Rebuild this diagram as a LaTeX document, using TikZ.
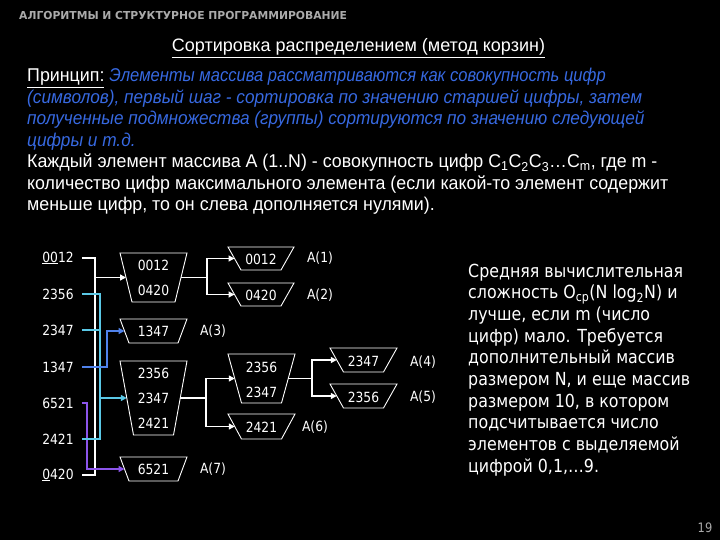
\documentclass[tikz,border=0pt]{standalone}
\usepackage{fontspec}
\setmainfont{Liberation Sans}
\newfontfamily\bodyfont[FakeStretch=0.963]{Liberation Sans}
\newfontfamily\bodyitfont[FakeStretch=0.93]{Liberation Sans Italic}
\newfontfamily\bodyitfontb[FakeStretch=0.895]{Liberation Sans Italic}
\newfontfamily\titlefont{Liberation Sans}
\newfontfamily\tahfont[FakeStretch=0.88]{DejaVu Sans}
\newfontfamily\headfont[FakeStretch=0.98]{DejaVu Sans Bold}
\usetikzlibrary{arrows.meta}
\definecolor{headgray}{RGB}{170,170,170}
\definecolor{princblue}{RGB}{55,105,225}
\definecolor{cyanline}{RGB}{90,200,230}
\definecolor{blueline}{RGB}{80,130,235}
\definecolor{purpline}{RGB}{140,85,235}
% #1 name, #2 cx, #3 cy, #4 top half width, #5 bottom half width, #6 half height
\newcommand{\mytrap}[6]{%
  \draw[trapline] ({#2-#4},{#3-#6}) -- ({#2+#4},{#3-#6}) -- ({#2+#5},{#3+#6}) -- ({#2-#5},{#3+#6}) -- cycle;
  \coordinate (#1-w) at ({#2-(#4+#5)/2},#3);
  \coordinate (#1-e) at ({#2+(#4+#5)/2},#3);
}
\begin{document}
\begin{tikzpicture}[x=1pt,y=-1pt,
  every node/.style={text=white},
  trapline/.style={draw=white, line width=0.9pt, line join=miter},
  num/.style={font=\tahfont\fontsize{14}{14}\selectfont, inner sep=0pt},
  lnum/.style={num, inner xsep=8pt},
  conn/.style={line width=1.4pt, draw=white},
  arr/.style={conn, -{Triangle[length=6pt,width=6pt]}},
  body/.style={font=\bodyfont\fontsize{18.5}{18.5}\selectfont, anchor=base west, inner sep=0pt},
  bodyit/.style={body, text=princblue, font=\bodyitfont\fontsize{18.5}{18.5}\selectfont},
  rtext/.style={font=\tahfont\fontsize{18}{18}\selectfont, anchor=base west, inner sep=0pt},
]
\useasboundingbox (0,0) rectangle (720,540);
\fill[black] (0,0) rectangle (720,540);

% header and title
\node[font=\headfont\fontsize{11}{11}\selectfont, text=headgray, anchor=base west, inner sep=0pt]
  (hdr) at (19,19.5) {АЛГОРИТМЫ И СТРУКТУРНОЕ ПРОГРАММИРОВАНИЕ};
\node[font=\titlefont\fontsize{18}{18}\selectfont, anchor=base, inner sep=0pt]
  (title) at (358.5,52) {\underline{Сортировка распределением (метод корзин)}};

% principle text
\node[body] (p1) at (27,82) {\underline{Принцип:} {\color{princblue}\bodyitfontb Элементы массива рассматриваются как совокупность цифр}};
\node[bodyit] (p2) at (27,103.5) {(символов), первый шаг - сортировка по значению старшей цифры, затем};
\node[bodyit] (p3) at (27,125) {полученные подмножества (группы) сортируются по значению следующей};
\node[bodyit] (p4) at (27,146.5) {цифры и т.д.};
\node[body] (p5) at (27,168) {Каждый элемент массива А (1..N) - совокупность цифр C\textsubscript{1}C\textsubscript{2}C\textsubscript{3}…C\textsubscript{m}, где m -};
\node[body] (p6) at (27,189.5) {количество цифр максимального элемента (если какой-то элемент содержит};
\node[body] (p7) at (27,211) {меньше цифр, то он слева дополняется нулями).};

% right text
\node[rtext] (r1) at (468,277) {Средняя вычислительная};
\node[rtext] (r2) at (468,298.7) {сложность O\textsubscript{ср}(N log\textsubscript{2}N) и};
\node[rtext] (r3) at (468,320.4) {лучше, если m (число};
\node[rtext] (r4) at (468,342.1) {цифр) мало. Требуется};
\node[rtext] (r5) at (468,363.8) {дополнительный массив};
\node[rtext] (r6) at (468,385.5) {размером N, и еще массив};
\node[rtext] (r7) at (468,407.2) {размером 10, в котором};
\node[rtext] (r8) at (468,428.9) {подсчитывается число};
\node[rtext] (r9) at (468,450.6) {элементов с выделяемой};
\node[rtext] (r10) at (468,472.3) {цифрой 0,1,…9.};

% page number
\node[font=\tahfont\fontsize{13}{13}\selectfont, text=headgray, inner sep=0pt] (pg) at (705,528) {19};

% left column
\node[lnum] (L1) at (58,258) {\underline{00}12};
\node[lnum] (L2) at (58,294) {2356};
\node[lnum] (L3) at (58,330) {2347};
\node[lnum] (L4) at (58,367) {1347};
\node[lnum] (L5) at (58,403) {6521};
\node[lnum] (L6) at (58,439) {2421};
\node[lnum] (L7) at (58,475) {\underline{0}420};

% first-level buckets
\mytrap{A}{153.5}{277.5}{33.5}{21.5}{24.5}
\mytrap{B}{153.5}{331}{33.5}{24.5}{12}
\mytrap{C}{153.5}{398}{33.5}{20}{37}
\mytrap{D}{153.5}{469}{33.5}{24.5}{12}
\node[num] (tA1) at (153.5,265) {0012};
\node[num] (tA2) at (153.5,290) {0420};
\node[num] (tB1) at (153.5,331) {1347};
\node[num] (tC1) at (153.5,373) {2356};
\node[num] (tC2) at (153.5,398) {2347};
\node[num] (tC3) at (153.5,423) {2421};
\node[num] (tD1) at (153.5,469) {6521};
\node[num] (lA3) at (213,331) {A(3)};
\node[num] (lA7) at (213,469) {A(7)};

% second-level buckets
\mytrap{A1}{261}{258.5}{33}{20}{11.5}
\mytrap{A2}{261}{294.5}{33}{20}{11.5}
\mytrap{C2}{261.5}{378.5}{33.5}{20}{24.5}
\mytrap{C3}{261.5}{426.5}{33.5}{20}{12.5}
\mytrap{C2a}{363.5}{360}{33.5}{20}{12}
\mytrap{C2b}{363.5}{396}{33.5}{20}{12}
\node[num] (tA1a) at (261,259) {0012};
\node[num] (tA2a) at (261,295) {0420};
\node[num] (tC2x) at (261.5,367) {2356};
\node[num] (tC2y) at (261.5,392) {2347};
\node[num] (tC3x) at (261.5,427) {2421};
\node[num] (tC2ax) at (363.5,361) {2347};
\node[num] (tC2bx) at (363.5,397) {2356};
\node[num] (lA1) at (320,258) {A(1)};
\node[num] (lA2) at (320,295) {A(2)};
\node[num] (lA6) at (315,427) {A(6)};
\node[num] (lA4) at (423,362) {A(4)};
\node[num] (lA5) at (423,397) {A(5)};

% bus coordinates
\coordinate (wv) at (95,0);
\coordinate (cv) at (100,0);
\coordinate (bv) at (107,0);
\coordinate (pv) at (87,0);
\coordinate (av) at (207,0);
\coordinate (cv2) at (206,0);
\coordinate (dv) at (312,0);

% first-level connectors
\draw[conn] (L1.east) -| (wv |- L7.east) -- (L7.east);
\draw[arr] (wv |- A-w) -- (A-w);
\draw[arr, draw=purpline] (L5.east) -| (pv |- D-w) -- (D-w);
\draw[conn, draw=cyanline] (L2.east) -| (cv |- L6.east) -- (L6.east);
\draw[conn, draw=cyanline] (L3.east) -- (cv |- L3.east);
\draw[arr, draw=cyanline] (cv |- C-w) -- (C-w);
\draw[arr, draw=blueline] (L4.east) -| (bv |- B-w) -- (B-w);

% second-level connectors
\draw[conn] (A-e) -- (av |- A-e);
\draw[arr] (av |- A-e) |- (A1-w);
\draw[arr] (av |- A-e) |- (A2-w);
\draw[conn] (C-e) -- (cv2 |- C-e);
\draw[arr] (cv2 |- C-e) |- (C2-w);
\draw[arr] (cv2 |- C-e) |- (C3-w);
\draw[conn] (C2-e) -- (dv |- C2-e);
\draw[arr] (dv |- C2-e) |- (C2a-w);
\draw[arr] (dv |- C2-e) |- (C2b-w);
\end{tikzpicture}
\end{document}
